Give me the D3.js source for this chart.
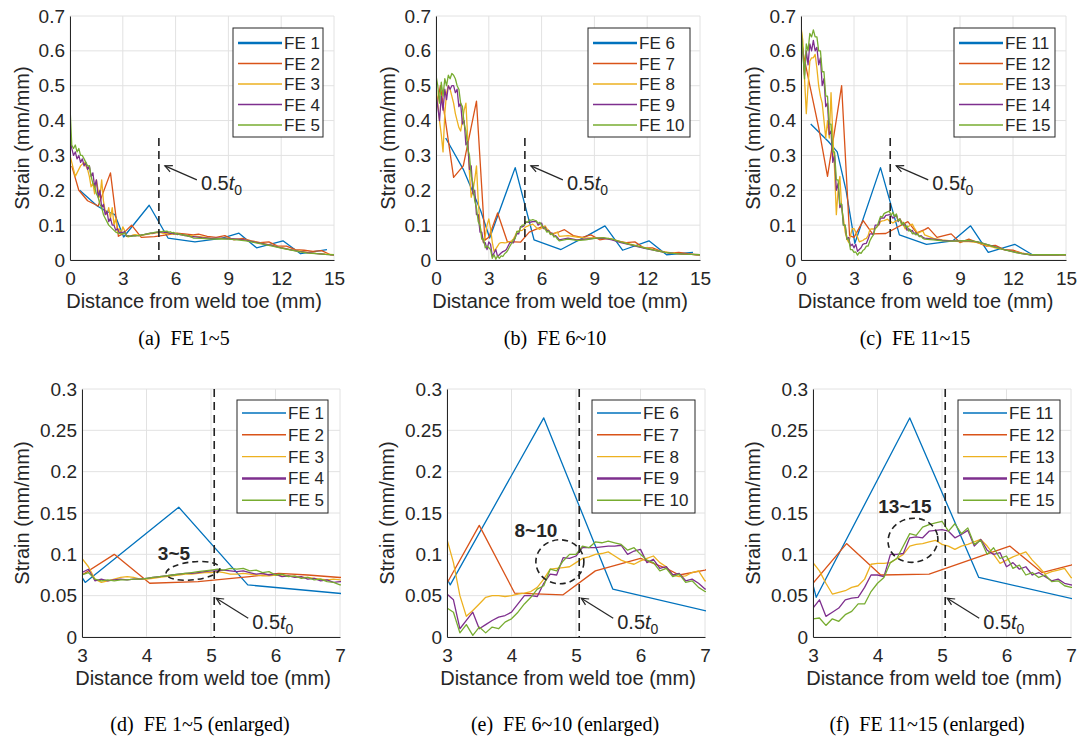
<!DOCTYPE html>
<html><head><meta charset="utf-8">
<script src="https://cdn.jsdelivr.net/npm/d3@7"></script>
<style>
body{margin:0;background:#fff}
svg{display:block}
text{font-family:"Liberation Sans",Arial,Helvetica,sans-serif;fill:#262626}
.cap{font-family:"Liberation Serif","Times New Roman",serif;fill:#000;white-space:pre}
</style>
</head><body>
<svg id="c" width="1078" height="742"></svg>
<script>
// ---------------- DATA ----------------
const seriesColors = ["#0072BD","#D95319","#EDB120","#7E2F8E","#77AC30"];
const names1 = ["FE 1","FE 2","FE 3","FE 4","FE 5"];
const names2 = ["FE 6","FE 7","FE 8","FE 9","FE 10"];
const names3 = ["FE 11","FE 12","FE 13","FE 14","FE 15"];
const xTicksFull = [0,3,6,9,12,15];
const yTicksFull = [0,0.1,0.2,0.3,0.4,0.5,0.6,0.7];
const yTickLabelsFull = ["0","0.1","0.2","0.3","0.4","0.5","0.6","0.7"];
const xTicksZoom = [3,4,5,6,7];
const yTicksZoom = [0,0.05,0.1,0.15,0.2,0.25,0.3];
const yTickLabelsZoom = ["0","0.05","0.1","0.15","0.2","0.25","0.3"];
const captions = ["(a)  FE 1~5","(b)  FE 6~10","(c)  FE 11~15","(d)  FE 1~5 (enlarged)","(e)  FE 6~10 (enlarged)","(f)  FE 11~15 (enlarged)"];
const groupLabels = ["3~5","8~10","13~15"];
const halfThickness = 5.05;   // 0.5 t0 (mm)

// fine-mesh distance grid (mm)
const xFine = [0,0.1,0.2,0.3,0.4,0.5,0.6,0.7,0.8,0.9,1.0,1.1,1.2,1.3,1.4,1.5,1.6,1.7,1.8,1.9,2.0,2.1,2.2,2.3,2.4,2.5,2.6,2.7,2.8,2.9,3.0,
 3.1,3.2,3.3,3.4,3.5,3.6,3.7,3.8,3.9,4.0,4.1,4.2,4.3,4.4,4.5,4.6,4.7,4.8,4.9,5.0,5.1,5.2,5.3,5.4,5.5,5.6,5.7,5.8,5.9,6.0,6.1,6.2,6.3,6.4,6.5,6.6,6.7,6.8,6.9,7.0,
 7.5,8.0,8.5,9.0,9.5,10.0,10.5,11.0,11.5,12.0,12.5,13.0,13.5,14.0,14.5,15.0];

// coarse meshes
const xCoarseA = [0.55,1.55,2.05,2.55,3.05,4.5,5.57,7.1,8.6,9.6,10.6,12.1,13.1,14.6];
const fe1 = [0.20,0.155,0.14,0.13,0.066,0.157,0.063,0.052,0.062,0.077,0.035,0.055,0.018,0.030];
const fe6 = [0.35,0.26,0.20,0.14,0.063,0.265,0.058,0.030,0.070,0.098,0.028,0.055,0.015,0.022];
const fe11 = [0.39,0.34,0.31,0.20,0.048,0.265,0.072,0.045,0.055,0.098,0.022,0.045,0.015,0.015];

const fe2X = [0.1,0.5,1.0,1.6,2.3,2.75,3.0,3.5,4.05,4.8,5.6,6.05,6.5,7.0,7.3,7.8,8.3,8.8,9.3,9.8,10.3,10.8,11.3,11.8,12.3,12.8,13.3,13.8,14.3,14.8,15.0];
const fe2 = [0.27,0.20,0.17,0.155,0.25,0.068,0.075,0.10,0.065,0.067,0.073,0.077,0.075,0.072,0.074,0.068,0.065,0.070,0.058,0.062,0.055,0.050,0.052,0.040,0.040,0.030,0.028,0.025,0.027,0.015,0.015];
const fe7X = [0.0,0.25,1.0,1.55,2.3,2.78,3.0,3.5,4.05,4.8,5.3,6.0,6.4,6.6,7.0,7.3,7.8,8.3,8.8,9.3,9.8,10.3,10.8,11.3,11.8,12.3,12.8,13.3,13.8,14.3,14.8,15.0];
const fe7 = [0.43,0.50,0.237,0.27,0.456,0.057,0.065,0.135,0.053,0.051,0.080,0.095,0.083,0.075,0.081,0.087,0.070,0.065,0.072,0.058,0.062,0.055,0.050,0.052,0.035,0.035,0.025,0.020,0.022,0.018,0.015,0.015];
const fe12X = [0.0,0.1,0.5,1.0,1.5,2.3,2.75,3.0,3.52,4.05,4.8,6.05,6.55,7.0,7.2,7.7,8.5,9.0,9.5,10.0,10.5,11.0,11.5,12.0,12.5,13.0,15.0];
const fe12 = [0.66,0.60,0.50,0.38,0.24,0.50,0.07,0.065,0.113,0.075,0.076,0.110,0.078,0.087,0.093,0.065,0.075,0.050,0.060,0.050,0.040,0.042,0.030,0.028,0.020,0.015,0.015];

// fine meshes (values on xFine)
const fe3 = [0.30,0.28,0.26,0.24,0.25,0.26,0.27,0.275,0.28,0.27,0.26,0.24,0.21,0.22,0.19,0.23,0.20,0.18,0.23,0.17,0.14,0.13,0.15,0.12,0.15,0.10,0.12,0.08,0.09,0.075,0.095,
 0.085,0.070,0.066,0.068,0.070,0.072,0.073,0.072,0.070,0.070,0.071,0.072,0.073,0.074,0.075,0.076,0.076,0.077,0.078,0.078,0.079,0.078,0.076,0.076,0.077,0.076,0.075,0.074,0.074,0.075,0.074,0.074,0.073,0.072,0.072,0.071,0.070,0.069,0.070,0.069,
 0.066,0.063,0.062,0.062,0.060,0.058,0.052,0.047,0.042,0.036,0.030,0.026,0.022,0.019,0.017,0.015];
const fe4 = [0.35,0.32,0.30,0.31,0.29,0.30,0.28,0.29,0.27,0.28,0.26,0.27,0.24,0.25,0.21,0.23,0.18,0.20,0.15,0.16,0.13,0.14,0.11,0.12,0.10,0.10,0.085,0.09,0.078,0.08,0.078,
 0.082,0.068,0.070,0.068,0.069,0.070,0.069,0.070,0.070,0.071,0.072,0.073,0.074,0.075,0.076,0.077,0.077,0.078,0.079,0.080,0.080,0.081,0.080,0.079,0.080,0.078,0.076,0.077,0.075,0.076,0.073,0.074,0.072,0.073,0.070,0.071,0.068,0.069,0.066,0.067,
 0.064,0.062,0.063,0.061,0.060,0.057,0.051,0.046,0.041,0.035,0.030,0.025,0.021,0.018,0.016,0.015];
const fe5 = [0.44,0.33,0.32,0.33,0.31,0.32,0.30,0.30,0.29,0.28,0.27,0.27,0.24,0.22,0.21,0.19,0.18,0.16,0.15,0.13,0.12,0.11,0.10,0.095,0.09,0.085,0.08,0.078,0.076,0.075,0.075,
 0.078,0.070,0.068,0.069,0.068,0.069,0.069,0.070,0.070,0.071,0.072,0.073,0.074,0.075,0.076,0.077,0.078,0.079,0.080,0.081,0.082,0.081,0.083,0.082,0.083,0.080,0.081,0.078,0.079,0.075,0.076,0.073,0.074,0.071,0.072,0.069,0.070,0.067,0.066,0.063,
 0.062,0.060,0.061,0.060,0.058,0.055,0.050,0.045,0.040,0.034,0.029,0.024,0.020,0.018,0.016,0.015];
const fe8 = [0.50,0.45,0.40,0.36,0.31,0.42,0.48,0.50,0.49,0.47,0.45,0.42,0.40,0.38,0.37,0.40,0.43,0.45,0.35,0.25,0.18,0.20,0.23,0.27,0.17,0.10,0.07,0.05,0.07,0.10,0.118,
 0.090,0.050,0.025,0.032,0.040,0.048,0.050,0.050,0.049,0.050,0.052,0.053,0.055,0.060,0.070,0.082,0.083,0.084,0.085,0.090,0.095,0.097,0.100,0.101,0.103,0.098,0.093,0.090,0.088,0.092,0.095,0.098,0.090,0.085,0.075,0.073,0.074,0.078,0.080,0.068,
 0.070,0.066,0.063,0.064,0.063,0.060,0.052,0.046,0.040,0.034,0.028,0.023,0.020,0.017,0.016,0.015];
const fe9 = [0.48,0.44,0.40,0.47,0.43,0.49,0.46,0.50,0.49,0.50,0.50,0.48,0.49,0.44,0.45,0.39,0.40,0.33,0.34,0.26,0.27,0.19,0.20,0.13,0.13,0.08,0.08,0.05,0.05,0.03,0.052,
 0.045,0.010,0.020,0.030,0.010,0.015,0.020,0.024,0.026,0.030,0.040,0.050,0.050,0.049,0.065,0.076,0.075,0.096,0.095,0.098,0.108,0.108,0.108,0.109,0.110,0.110,0.111,0.100,0.104,0.106,0.090,0.094,0.083,0.085,0.075,0.077,0.068,0.070,0.065,0.058,
 0.063,0.058,0.060,0.062,0.063,0.058,0.050,0.044,0.038,0.032,0.027,0.022,0.019,0.017,0.016,0.015];
const fe10 = [0.53,0.50,0.45,0.51,0.47,0.52,0.50,0.53,0.52,0.535,0.53,0.52,0.50,0.49,0.45,0.44,0.39,0.37,0.32,0.30,0.24,0.22,0.17,0.15,0.11,0.10,0.06,0.06,0.035,0.04,0.035,
 0.030,0.005,0.015,0.002,0.012,0.005,0.012,0.010,0.018,0.022,0.030,0.040,0.048,0.058,0.062,0.082,0.080,0.092,0.100,0.100,0.110,0.108,0.115,0.114,0.116,0.114,0.112,0.105,0.108,0.100,0.093,0.090,0.080,0.083,0.073,0.076,0.066,0.068,0.060,0.055,
 0.060,0.056,0.058,0.062,0.064,0.060,0.052,0.045,0.039,0.033,0.027,0.022,0.019,0.017,0.016,0.015];
const fe13 = [0.67,0.63,0.52,0.42,0.50,0.57,0.58,0.58,0.59,0.55,0.50,0.47,0.45,0.40,0.35,0.40,0.35,0.48,0.36,0.26,0.13,0.20,0.24,0.15,0.12,0.08,0.06,0.05,0.07,0.09,0.09,
 0.080,0.065,0.052,0.054,0.056,0.060,0.062,0.070,0.088,0.089,0.089,0.090,0.095,0.100,0.110,0.112,0.113,0.115,0.117,0.112,0.110,0.106,0.110,0.112,0.115,0.118,0.110,0.100,0.089,0.093,0.097,0.100,0.103,0.093,0.085,0.076,0.079,0.081,0.083,0.072,
 0.062,0.058,0.055,0.053,0.053,0.050,0.042,0.035,0.030,0.025,0.020,0.016,0.015,0.015,0.015,0.015];
const fe14 = [0.65,0.60,0.53,0.60,0.56,0.62,0.60,0.63,0.60,0.61,0.56,0.58,0.50,0.52,0.44,0.45,0.36,0.37,0.28,0.30,0.20,0.22,0.15,0.16,0.10,0.10,0.06,0.065,0.04,0.045,0.035,
 0.045,0.025,0.030,0.035,0.045,0.047,0.048,0.060,0.075,0.075,0.073,0.100,0.100,0.101,0.120,0.121,0.120,0.128,0.129,0.130,0.128,0.120,0.124,0.129,0.110,0.118,0.105,0.100,0.102,0.085,0.090,0.082,0.085,0.075,0.078,0.073,0.068,0.070,0.065,0.063,
 0.060,0.056,0.055,0.055,0.055,0.052,0.045,0.038,0.030,0.024,0.018,0.015,0.015,0.015,0.015,0.015];
const fe15 = [0.67,0.60,0.52,0.62,0.60,0.65,0.64,0.66,0.64,0.64,0.60,0.60,0.54,0.54,0.47,0.47,0.39,0.39,0.31,0.31,0.23,0.23,0.16,0.16,0.10,0.10,0.06,0.06,0.03,0.03,0.022,
 0.023,0.014,0.022,0.019,0.027,0.031,0.040,0.040,0.055,0.065,0.072,0.090,0.095,0.110,0.125,0.123,0.133,0.136,0.138,0.140,0.128,0.137,0.125,0.132,0.112,0.117,0.100,0.108,0.095,0.098,0.083,0.087,0.075,0.078,0.072,0.075,0.067,0.068,0.062,0.060,
 0.058,0.055,0.054,0.055,0.056,0.052,0.045,0.037,0.030,0.023,0.018,0.015,0.015,0.015,0.015,0.015];

// ---------------- BUILD ----------------
const pair = (xs, ys) => xs.map((v,i)=>[v, ys[i]]);
const groups = [
  [pair(xCoarseA,fe1), pair(fe2X,fe2), pair(xFine,fe3), pair(xFine,fe4), pair(xFine,fe5)],
  [pair(xCoarseA,fe6), pair(fe7X,fe7), pair(xFine,fe8), pair(xFine,fe9), pair(xFine,fe10)],
  [pair(xCoarseA,fe11), pair(fe12X,fe12), pair(xFine,fe13), pair(xFine,fe14), pair(xFine,fe15)]
];
const groupNames = [names1, names2, names3];

// layout (pixels)
const topFrames = [[70,334],[436,700],[801,1066]];
const botFrames = [[82,340],[447,705],[813,1071]];
const topLegendX = [233,588,954], botLegendX = [237,592,958];
const topLegendW = [90,102,101], botLegendW = [91,103,102];
const captionX = [184,555,915,200,565,927];
const ellipseSpec = [
  {cx:4.72, cy:0.080, rx:27, ry:9,  rot:-6, lx:-19, ly:-11},
  {cx:4.75, cy:0.091, rx:24, ry:22, rot:0,  lx:-24, ly:-25},
  {cx:4.55, cy:0.117, rx:25, ry:22, rot:-10, lx:-8, ly:-27}
];

const svg = d3.select("#c");
const defs = svg.append("defs");

function drawPanel(cfg) {
  const {k, L, R, T, B, xd, yd, xt, yt, ytl, zoomed} = cfg;
  const x = d3.scaleLinear().domain(xd).range([L, R]);
  const y = d3.scaleLinear().domain(yd).range([B, T]);
  const g = svg.append("g");

  // grid
  g.selectAll(null).data(xt).join("line")
    .attr("x1", d=>x(d)).attr("x2", d=>x(d)).attr("y1", T).attr("y2", B)
    .attr("stroke", "#e2e2e2").attr("stroke-width", 1);
  g.selectAll(null).data(yt).join("line")
    .attr("x1", L).attr("x2", R).attr("y1", d=>y(d)).attr("y2", d=>y(d))
    .attr("stroke", "#e2e2e2").attr("stroke-width", 1);

  // clip + data
  const cid = "clip" + cfg.id;
  defs.append("clipPath").attr("id", cid).append("rect")
    .attr("x", L).attr("y", T - 1).attr("width", R - L + 1).attr("height", B - T + 2);
  const line = d3.line().x(d=>x(d[0])).y(d=>y(d[1]));
  g.append("g").attr("clip-path", `url(#${cid})`)
    .selectAll("path").data(groups[k]).join("path")
    .attr("d", line).attr("fill", "none")
    .attr("stroke", (d,i)=>seriesColors[i]).attr("stroke-width", 1.3)
    .attr("stroke-linejoin", "round");

  // axes
  const ax = g.append("g").attr("transform", `translate(0,${B})`)
    .call(d3.axisBottom(x).tickValues(xt).tickSize(0).tickPadding(12).tickFormat(d3.format("d")));
  const ay = g.append("g").attr("transform", `translate(${L},0)`)
    .call(d3.axisLeft(y).tickValues(yt).tickSize(0).tickPadding(5).tickFormat((d,i)=>ytl[i]));
  [ax, ay].forEach(a => {
    a.select(".domain").attr("stroke", "#262626").attr("stroke-width", 1);
    a.selectAll("text").attr("font-size", 19).attr("fill", "#262626")
      .attr("font-family", '"Liberation Sans",Arial,sans-serif');
  });

  // axis labels
  g.append("text").attr("x", (L+R)/2 - 8).attr("y", B + 48)
    .attr("text-anchor", "middle").attr("font-size", 20).text("Distance from weld toe (mm)");
  g.append("text").attr("transform", `translate(${L - (zoomed ? 53 : 41)},${(T+B)/2}) rotate(-90)`)
    .attr("text-anchor", "middle").attr("font-size", 20).text("Strain (mm/mm)");

  // 0.5 t0 dashed marker
  const xm = x(halfThickness);
  g.append("line").attr("x1", xm).attr("x2", xm)
    .attr("y1", zoomed ? T : y(0.35)).attr("y2", B)
    .attr("stroke", "#222").attr("stroke-width", 1.6).attr("stroke-dasharray", "8,5");

  // arrow + label
  const hx = xm + (zoomed ? 2 : 6), hy = zoomed ? y(0.047) : y(0.27);
  const tx = hx + 32, ty = hy + (zoomed ? 20 : 14);
  g.append("line").attr("x1", tx).attr("y1", ty).attr("x2", hx).attr("y2", hy)
    .attr("stroke", "#262626").attr("stroke-width", 1.2);
  const ang = Math.atan2(ty - hy, tx - hx);
  const ah = 8, aw = 0.45;
  g.append("path")
    .attr("d", `M${hx + ah*Math.cos(ang+aw)},${hy + ah*Math.sin(ang+aw)}L${hx},${hy}L${hx + ah*Math.cos(ang-aw)},${hy + ah*Math.sin(ang-aw)}`)
    .attr("fill", "none").attr("stroke", "#262626").attr("stroke-width", 1.2);
  const lab = g.append("text").attr("x", tx + 4).attr("y", ty + (zoomed ? 11 : 10)).attr("font-size", 20);
  lab.append("tspan").text("0.5");
  lab.append("tspan").attr("font-style", "italic").text("t");
  lab.append("tspan").attr("font-size", 14).attr("dy", 5).text("0");

  // group ellipse (zoomed panels)
  if (zoomed) {
    const e = ellipseSpec[k];
    const ex = x(e.cx), ey = y(e.cy);
    g.append("ellipse").attr("cx", ex).attr("cy", ey).attr("rx", e.rx).attr("ry", e.ry)
      .attr("transform", `rotate(${e.rot},${ex},${ey})`)
      .attr("fill", "none").attr("stroke", "#222").attr("stroke-width", 1.6).attr("stroke-dasharray", "6,4");
    g.append("text").attr("x", ex + e.lx).attr("y", ey + e.ly - (k === 0 ? 0 : 0))
      .attr("text-anchor", "middle").attr("font-weight", "bold").attr("font-size", 19).attr("fill", "#111")
      .text(groupLabels[k]);
  }

  // legend
  const lx = cfg.legX, lw = cfg.legW, ly0 = cfg.legY0, ly1 = cfg.legY1;
  const lg = g.append("g");
  lg.append("rect").attr("x", lx).attr("y", ly0).attr("width", lw).attr("height", ly1 - ly0)
    .attr("fill", "#fff").attr("stroke", "#262626").attr("stroke-width", 1);
  const step = zoomed ? 21.8 : 20.5, first = zoomed ? 13 : 15;
  const thick = zoomed ? 3 : 0;
  groupNames[k].forEach((nm, i) => {
    const yy = ly0 + first + i*step;
    lg.append("line").attr("x1", lx + 5).attr("x2", lx + 49).attr("y1", yy).attr("y2", yy)
      .attr("stroke", seriesColors[i]).attr("stroke-width", i === thick ? 2.5 : 1.4);
    lg.append("text").attr("x", lx + 51).attr("y", yy + 6).attr("font-size", 17).text(nm);
  });
}

for (let k = 0; k < 3; k++) {
  drawPanel({id:"t"+k, k, L:topFrames[k][0], R:topFrames[k][1], T:16, B:260,
    xd:[0,15], yd:[0,0.7], xt:xTicksFull, yt:yTicksFull, ytl:yTickLabelsFull, zoomed:false,
    legX:topLegendX[k], legW:topLegendW[k], legY0:28, legY1:137});
  drawPanel({id:"b"+k, k, L:botFrames[k][0], R:botFrames[k][1], T:389, B:637,
    xd:[3,7], yd:[0,0.3], xt:xTicksZoom, yt:yTicksZoom, ytl:yTickLabelsZoom, zoomed:true,
    legX:botLegendX[k], legW:botLegendW[k], legY0:400, legY1:513});
}

// captions
svg.selectAll(".cap").data(captions).join("text").attr("class", "cap")
  .attr("x", (d,i)=>captionX[i]).attr("y", (d,i)=> i < 3 ? 345 : 731)
  .attr("text-anchor", "middle").attr("font-size", 20).text(d=>d);
</script>
</body></html>
